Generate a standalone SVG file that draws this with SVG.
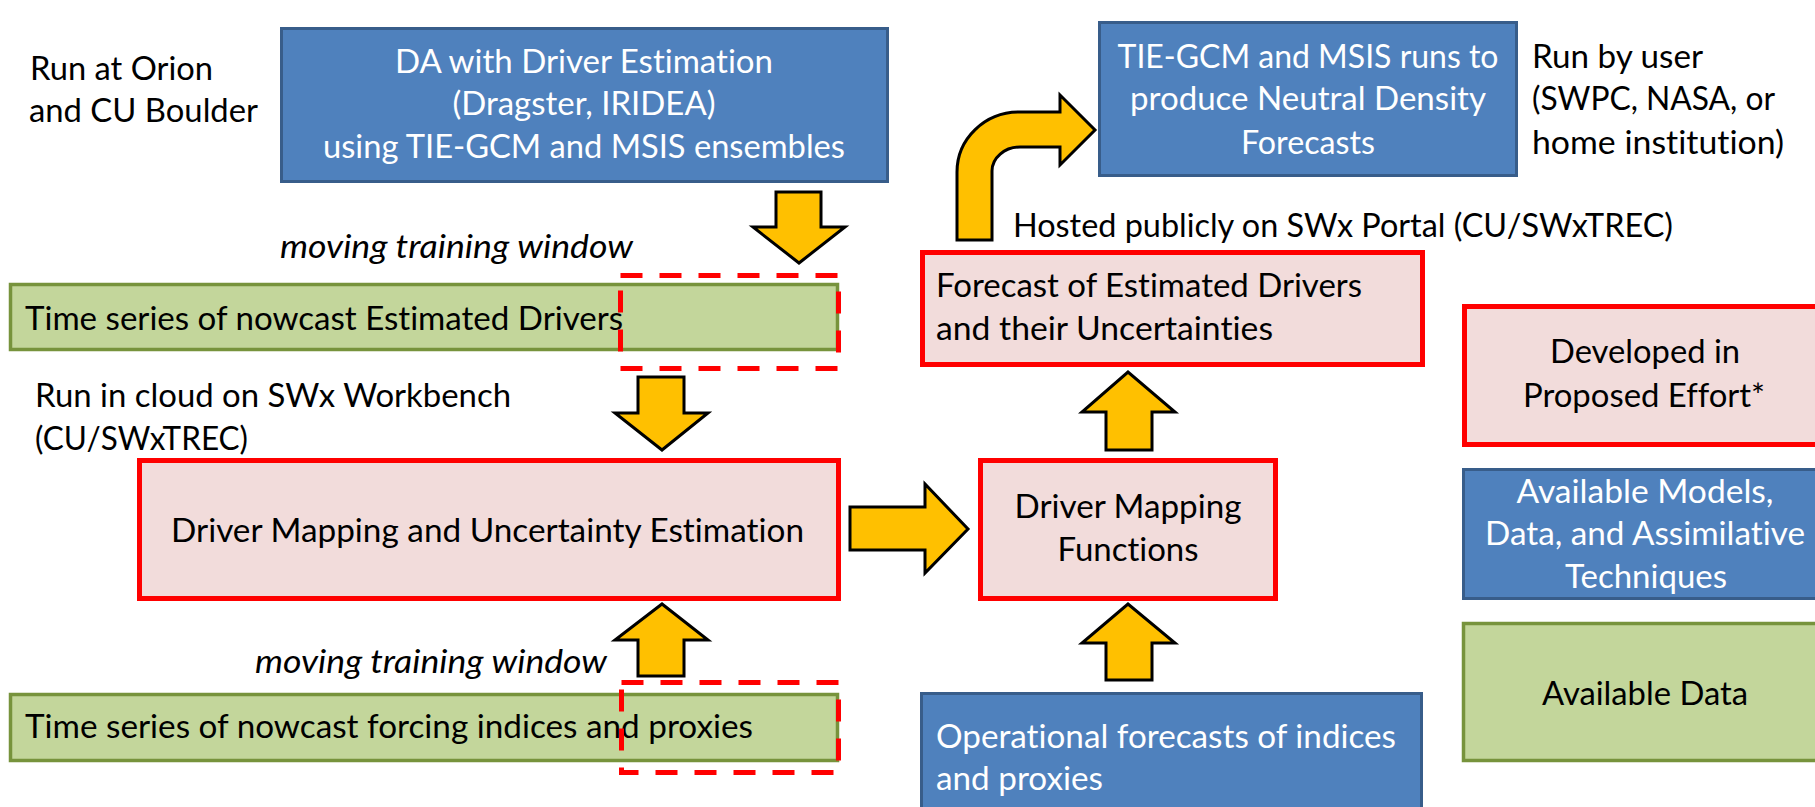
<svg xmlns="http://www.w3.org/2000/svg" width="1815" height="807" viewBox="0 0 1815 807">
<style>
.t{font-family:Lato,"Liberation Sans",sans-serif;font-size:32.5px;fill:#000;font-variant-ligatures:none}
.w{fill:#fff}
.i{font-style:italic}
.mid{text-anchor:middle}
.blue{fill:#4F81BD;stroke:#385D8A;stroke-width:3}
.pink{fill:#F2DCDB;stroke:#FF0000;stroke-width:5}
.green{fill:#C3D69B;stroke:#77933C;stroke-width:3.5}
.dash{fill:none;stroke:#FF0000;stroke-width:5;stroke-dasharray:22 17}
.arrow{fill:#FFC000;stroke:#000;stroke-width:3;stroke-linejoin:miter}
</style>
<rect width="1815" height="807" fill="#fff"/>

<g id="annotations">
<text class="t" x="30" y="80" textLength="183" lengthAdjust="spacingAndGlyphs">Run at Orion</text>
<text class="t" x="29" y="122" textLength="229" lengthAdjust="spacingAndGlyphs">and CU Boulder</text>
<text class="t i" x="280" y="258" textLength="353" lengthAdjust="spacingAndGlyphs">moving training window</text>
<text class="t" x="35" y="407" textLength="476" lengthAdjust="spacingAndGlyphs">Run in cloud on SWx Workbench</text>
<text class="t" x="35" y="450" textLength="213" lengthAdjust="spacingAndGlyphs">(CU/SWxTREC)</text>
<text class="t i" x="255" y="673" textLength="352" lengthAdjust="spacingAndGlyphs">moving training window</text>
<text class="t" x="1013" y="237" textLength="660" lengthAdjust="spacingAndGlyphs">Hosted publicly on SWx Portal (CU/SWxTREC)</text>
<text class="t" x="1532" y="68" textLength="171" lengthAdjust="spacingAndGlyphs">Run by user</text>
<text class="t" x="1532" y="110" textLength="243" lengthAdjust="spacingAndGlyphs">(SWPC, NASA, or</text>
<text class="t" x="1532" y="154" textLength="252" lengthAdjust="spacingAndGlyphs">home institution)</text>
</g>

<g id="da-driver-estimation">
<rect class="blue" x="281.5" y="28.5" width="606" height="153"/>
<text class="t w mid" x="584" y="73" textLength="378" lengthAdjust="spacingAndGlyphs">DA with Driver Estimation</text>
<text class="t w mid" x="584" y="115" textLength="263" lengthAdjust="spacingAndGlyphs">(Dragster, IRIDEA)</text>
<text class="t w mid" x="584" y="158" textLength="522" lengthAdjust="spacingAndGlyphs">using TIE-GCM and MSIS ensembles</text>
</g>

<g id="nowcast-estimated-drivers">
<rect class="green" x="10.5" y="284.5" width="827" height="65"/>
<text class="t" x="25" y="330" textLength="598" lengthAdjust="spacingAndGlyphs">Time series of nowcast Estimated Drivers</text>
</g>

<g id="driver-mapping-uncertainty">
<rect class="pink" x="139.5" y="460.5" width="699" height="138"/>
<text class="t" x="171" y="542" textLength="633" lengthAdjust="spacingAndGlyphs">Driver Mapping and Uncertainty Estimation</text>
</g>

<g id="nowcast-forcing-indices">
<rect class="green" x="10.5" y="694.5" width="827" height="66"/>
<text class="t" x="25" y="738" textLength="728" lengthAdjust="spacingAndGlyphs">Time series of nowcast forcing indices and proxies</text>
</g>

<g id="training-windows">
<rect class="dash" x="620.5" y="275.5" width="218" height="93"/>
<rect class="dash" x="621.5" y="682.5" width="217" height="90"/>
</g>

<g id="driver-mapping-functions">
<rect class="pink" x="980.5" y="460.5" width="295" height="138"/>
<text class="t mid" x="1128" y="518" textLength="227" lengthAdjust="spacingAndGlyphs">Driver Mapping</text>
<text class="t mid" x="1128" y="561" textLength="141" lengthAdjust="spacingAndGlyphs">Functions</text>
</g>

<g id="forecast-estimated-drivers">
<rect class="pink" x="922.5" y="252.5" width="500" height="112"/>
<text class="t" x="936" y="297" textLength="426" lengthAdjust="spacingAndGlyphs">Forecast of Estimated Drivers</text>
<text class="t" x="936" y="340" textLength="337" lengthAdjust="spacingAndGlyphs">and their Uncertainties</text>
</g>

<g id="operational-forecasts">
<rect class="blue" x="921.5" y="693.5" width="500" height="150"/>
<text class="t w" x="936" y="748" textLength="460" lengthAdjust="spacingAndGlyphs">Operational forecasts of indices</text>
<text class="t w" x="936" y="790" textLength="167" lengthAdjust="spacingAndGlyphs">and proxies</text>
</g>

<g id="neutral-density-forecasts">
<rect class="blue" x="1099.5" y="22.5" width="417" height="153"/>
<text class="t w mid" x="1308" y="68" textLength="381" lengthAdjust="spacingAndGlyphs">TIE-GCM and MSIS runs to</text>
<text class="t w mid" x="1308" y="110" textLength="356" lengthAdjust="spacingAndGlyphs">produce Neutral Density</text>
<text class="t w mid" x="1308" y="154" textLength="134" lengthAdjust="spacingAndGlyphs">Forecasts</text>
</g>

<g id="legend-developed">
<rect class="pink" x="1464.5" y="306.5" width="400" height="138"/>
<text class="t mid" x="1645" y="363" textLength="190" lengthAdjust="spacingAndGlyphs">Developed in</text>
<text class="t mid" x="1644" y="407" textLength="242" lengthAdjust="spacingAndGlyphs">Proposed Effort*</text>
</g>

<g id="legend-models">
<rect class="blue" x="1463.5" y="469.5" width="400" height="129"/>
<text class="t w mid" x="1645" y="503" textLength="257" lengthAdjust="spacingAndGlyphs">Available Models,</text>
<text class="t w mid" x="1645" y="545" textLength="320" lengthAdjust="spacingAndGlyphs">Data, and Assimilative</text>
<text class="t w mid" x="1646" y="588" textLength="162" lengthAdjust="spacingAndGlyphs">Techniques</text>
</g>

<g id="legend-data">
<rect class="green" x="1463.5" y="623.5" width="400" height="137"/>
<text class="t mid" x="1645" y="705" textLength="206" lengthAdjust="spacingAndGlyphs">Available Data</text>
</g>

<g id="connectors">
<path class="arrow" d="M776,192 H821 V227 H845 L799,263 L753,227 H776 Z"/>
<path class="arrow" d="M638,377 H684 V413 H708 L662,450 L615,413 H638 Z"/>
<path class="arrow" d="M638,676 V640 H615 L662,604 L708,640 H684 V676 Z"/>
<path class="arrow" d="M850,507 H925 V484 L968,529 L925,573 V550 H850 Z"/>
<path class="arrow" d="M1106,450 V412 H1082 L1128,372 L1175,412 H1152 V450 Z"/>
<path class="arrow" d="M1106,680 V643 H1082 L1128,604 L1175,643 H1152 V680 Z"/>
<path class="arrow" d="M957,240 V172 A62,60 0 0 1 1019,112 H1060 V95 L1095,130 L1060,165 V147 H1020 A28,24 0 0 0 992,171 V240 Z"/>
</g>
</svg>
